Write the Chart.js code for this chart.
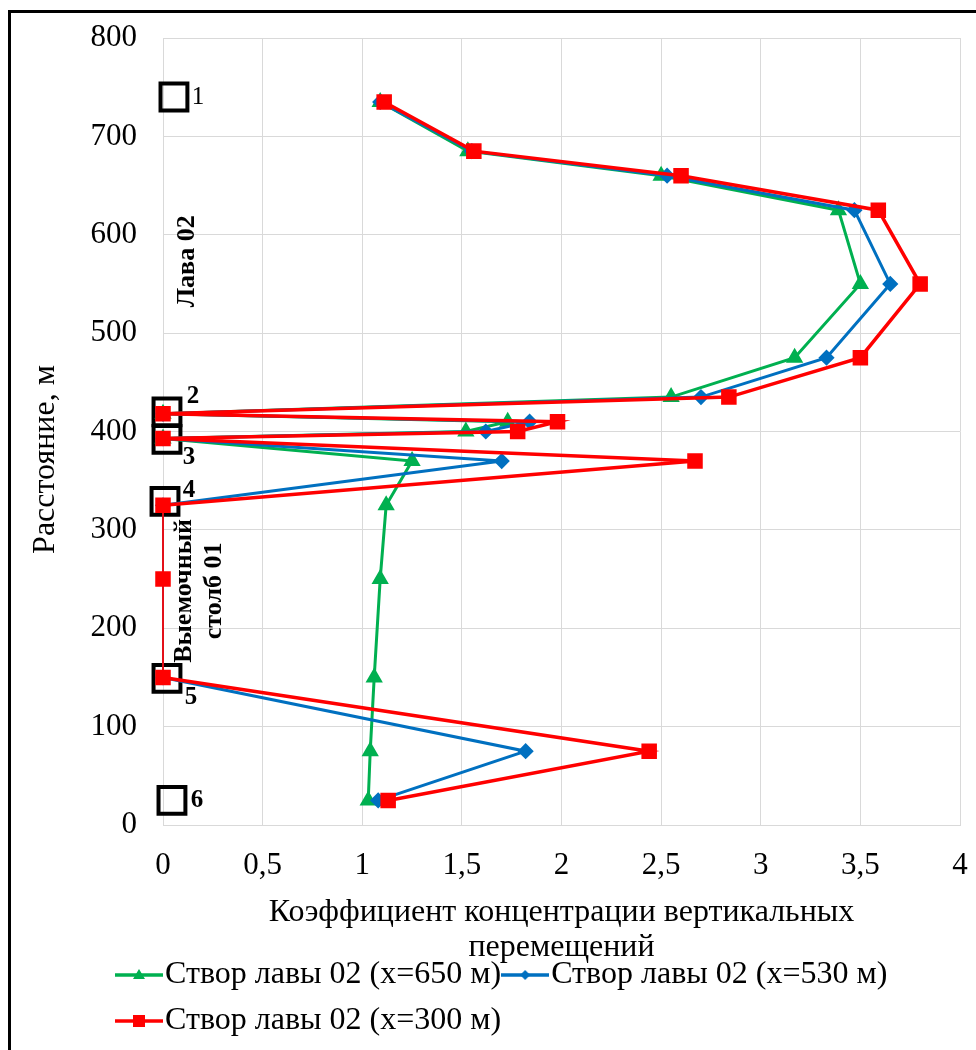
<!DOCTYPE html>
<html lang="ru">
<head>
<meta charset="utf-8" />
<title>Коэффициент концентрации вертикальных перемещений</title>
<script src="https://cdnjs.cloudflare.com/ajax/libs/Chart.js/4.4.0/chart.umd.js"></script>
<style>
    body { margin: 0; background: #fff; }
    #wrap { position: relative; width: 976px; height: 1050px; overflow: hidden; }
    #frame { position: absolute; left: 8px; top: 10px; width: 1000px; height: 1100px;
             border-left: 3px solid #000; border-top: 3px solid #000; pointer-events: none; }
</style>
</head>
<body>
<div id="wrap">
    <canvas id="chart" width="976" height="1050"></canvas>
    <div id="frame"></div>
</div>
<script>
    // series: distance along the line (m) and concentration coefficient
    const seriesNames = ['Створ лавы 02 (x=650 м)', 'Створ лавы 02 (x=530 м)', 'Створ лавы 02 (x=300 м)'];

    const distance650 = [735, 685, 660, 625, 550, 475, 435, 418, 410, 400, 393, 370, 325, 250, 150, 75, 25];
    const coef650     = [1.09, 1.53, 2.50, 3.39, 3.50, 3.17, 2.55, 0, 1.73, 1.52, 0, 1.25, 1.12, 1.09, 1.06, 1.04, 1.03];

    const distance530 = [735, 685, 660, 625, 550, 475, 435, 418, 410, 400, 393, 370, 325, 150, 75, 25];
    const coef530     = [1.09, 1.55, 2.53, 3.47, 3.65, 3.33, 2.70, 0, 1.84, 1.62, 0, 1.70, 0, 0, 1.82, 1.08];

    const distance300 = [735, 685, 660, 625, 550, 475, 435, 418, 410, 400, 393, 370, 325, 250, 150, 75, 25];
    const coef300     = [1.11, 1.56, 2.60, 3.59, 3.80, 3.50, 2.84, 0, 1.98, 1.78, 0, 2.67, 0, 0, 0, 2.44, 1.13];

    // numbered boxes (points 1..6)
    const boxCoef     = [0.055, 0.02, 0.02, 0.01, 0.02, 0.045];
    const boxDistance = [740, 420, 392, 329, 149, 25];
    const boxLabels   = ['1', '2', '3', '4', '5', '6'];

    const xTickValues = [0, 0.5, 1, 1.5, 2, 2.5, 3, 3.5, 4];
    const xTickLabels = ['0', '0,5', '1', '1,5', '2', '2,5', '3', '3,5', '4'];
    const yTickValues = [0, 100, 200, 300, 400, 500, 600, 700, 800];
    const yTickLabels = ['0', '100', '200', '300', '400', '500', '600', '700', '800'];

    const FONT = '"Liberation Serif", "Times New Roman", serif';
    const GREEN = '#00B050', BLUE = '#0070C0', RED = '#FF0000';

    const toPoints = (xs, ys) => xs.map((x, i) => ({ x: x, y: ys[i] }));

    // thin line where the curve runs along the axis
    const segWidth = w => ctx => (ctx.p0.parsed.x === 0 && ctx.p1.parsed.x === 0) ? 1 : w;

    // legend icons: line with the marker in the middle
    function legendIcon(color, shape) {
        const c = document.createElement('canvas');
        c.width = 48; c.height = 16;
        const g = c.getContext('2d');
        g.strokeStyle = color; g.fillStyle = color; g.lineWidth = 3.5;
        g.beginPath(); g.moveTo(0, 8); g.lineTo(48, 8); g.stroke();
        g.beginPath();
        if (shape === 'triangle') { g.moveTo(24, 2); g.lineTo(30, 12); g.lineTo(18, 12); }
        else if (shape === 'diamond') { g.moveTo(24, 3); g.lineTo(29, 8); g.lineTo(24, 13); g.lineTo(19, 8); }
        else { g.rect(18, 2, 12, 12); }
        g.closePath(); g.fill();
        return c;
    }
    const icons = [legendIcon(GREEN, 'triangle'), legendIcon(BLUE, 'diamond'), legendIcon(RED, 'square')];

    const annotations = {
        id: 'annotations',
        afterDatasetsDraw(chart) {
            const { ctx, scales: { x, y } } = chart;
            const offsets = [[24, 0], [26, -15], [22, 18], [24, -11], [24, 19], [25, 0]];
            ctx.save();
            ctx.fillStyle = '#000';
            ctx.textAlign = 'center';
            ctx.textBaseline = 'middle';
            boxLabels.forEach((t, i) => {
                ctx.font = (i === 0 ? '' : 'bold ') + '25px ' + FONT;
                ctx.fillText(t, x.getPixelForValue(boxCoef[i]) + offsets[i][0], y.getPixelForValue(boxDistance[i]) + offsets[i][1]);
            });
            ctx.font = 'bold 26px ' + FONT;
            ctx.translate(x.getPixelForValue(0.12), y.getPixelForValue(573));
            ctx.rotate(-Math.PI / 2);
            ctx.fillText('Лава 02', 0, 0);
            ctx.restore();

            ctx.save();
            ctx.fillStyle = '#000';
            ctx.textAlign = 'center';
            ctx.textBaseline = 'middle';
            ctx.font = 'bold 26px ' + FONT;
            ctx.translate(x.getPixelForValue(0.18), y.getPixelForValue(238));
            ctx.rotate(-Math.PI / 2);
            ctx.fillText('Выемочный', 0, -15);
            ctx.fillText('столб 01', 0, 15);
            ctx.restore();
        }
    };

    // put the legend under the axis title, left aligned like the original
    const legendPlace = {
        id: 'legendPlace',
        afterLayout(chart) {
            const lg = chart.legend;
            lg.left += 115; lg.right += 115;
            lg.top -= 20; lg.bottom += 60;
        }
    };

    const ctx = document.getElementById('chart').getContext('2d');
    new Chart(ctx, {
        type: 'scatter',
        data: {
            datasets: [
                {
                    label: seriesNames[0],
                    data: toPoints(coef650, distance650),
                    showLine: true, clip: false,
                    borderColor: GREEN, backgroundColor: GREEN,
                    borderWidth: 3, pointStyle: 'triangle', pointRadius: 7,
                    segment: { borderWidth: segWidth(3) },
                    order: 3,
                },
                {
                    label: seriesNames[1],
                    data: toPoints(coef530, distance530),
                    showLine: true, clip: false,
                    borderColor: BLUE, backgroundColor: BLUE,
                    borderWidth: 3, pointStyle: 'rectRot', pointRadius: 6,
                    segment: { borderWidth: segWidth(3) },
                    order: 2,
                },
                {
                    label: seriesNames[2],
                    data: toPoints(coef300, distance300),
                    showLine: true, clip: false,
                    borderColor: RED, backgroundColor: RED,
                    borderWidth: 3.5, pointStyle: 'rect', pointRadius: 8.5,
                    segment: { borderWidth: segWidth(3.5) },
                    order: 1,
                },
                {
                    label: 'boxes',
                    data: toPoints(boxCoef, boxDistance),
                    showLine: false, clip: false,
                    borderColor: '#000', backgroundColor: 'rgba(0,0,0,0)',
                    borderWidth: 4, pointStyle: 'rect', pointRadius: 19,
                    order: 10,
                },
            ],
        },
        options: {
            responsive: false,
            animation: false,
            layout: { autoPadding: false, padding: { top: 38, right: 16, bottom: 15, left: 0 } },
            scales: {
                x: {
                    type: 'linear', min: 0, max: 4,
                    afterBuildTicks: s => { s.ticks = xTickValues.map(v => ({ value: v })); },
                    afterFit: s => { s.height = 140; s.paddingLeft = 0; s.paddingRight = 0; },
                    ticks: {
                        callback: (v, i) => xTickLabels[i],
                        font: { family: FONT, size: 31 }, color: '#000', padding: 22,
                    },
                    grid: { color: '#D9D9D9', drawTicks: false },
                    border: { color: '#D9D9D9' },
                    title: {
                        display: true,
                        text: ['Коэффициент концентрации вертикальных', 'перемещений'],
                        font: { family: FONT, size: 32, lineHeight: 35 / 32 },
                        color: '#000',
                        padding: { top: 10, bottom: 0 },
                    },
                },
                y: {
                    type: 'linear', min: 0, max: 800,
                    afterBuildTicks: s => { s.ticks = yTickValues.map(v => ({ value: v })); },
                    afterFit: s => { s.width = 163; s.paddingTop = 0; s.paddingBottom = 0; },
                    ticks: {
                        callback: (v, i) => yTickLabels[i],
                        font: { family: FONT, size: 31 }, color: '#000', padding: 26,
                    },
                    grid: { color: '#D9D9D9', drawTicks: false },
                    border: { color: '#D9D9D9' },
                    title: {
                        display: true,
                        // trailing spaces push the title down like in the original
                        text: 'Расстояние, м\u00A0\u00A0\u00A0\u00A0\u00A0\u00A0\u00A0',
                        font: { family: FONT, size: 32, lineHeight: 1.2 },
                        color: '#000',
                        padding: { top: 26, bottom: 0 },
                    },
                },
            },
            plugins: {
                tooltip: { enabled: false },
                legend: {
                    position: 'bottom',
                    align: 'start',
                    maxHeight: 70,
                    labels: {
                        usePointStyle: true,
                        pointStyleWidth: 20,
                        padding: 14,
                        color: '#000',
                        font: { family: FONT, size: 32 },
                        filter: item => item.datasetIndex < 3,
                        sort: (a, b) => a.datasetIndex - b.datasetIndex,
                        generateLabels(chart) {
                            const items = Chart.defaults.plugins.legend.labels.generateLabels(chart);
                            items.forEach(it => { if (it.datasetIndex < 3) it.pointStyle = icons[it.datasetIndex]; });
                            return items;
                        },
                    },
                },
            },
        },
        plugins: [annotations, legendPlace],
    });
</script>
</body>
</html>
